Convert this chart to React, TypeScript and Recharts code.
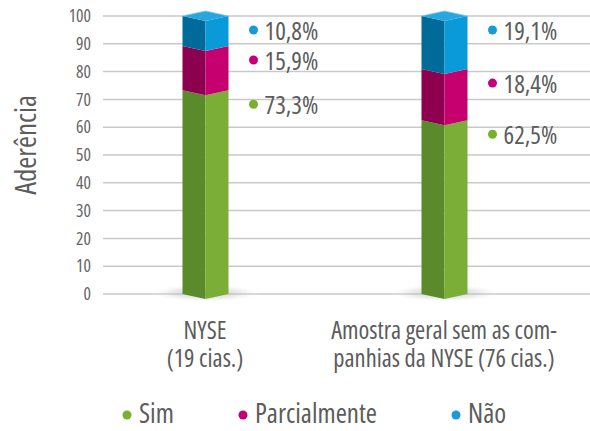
import React from 'react';
import { BarChart, Bar, XAxis, YAxis, CartesianGrid, LabelList } from 'recharts';

const categories = ['NYSE (19 cias.)', 'Amostra geral sem as companhias da NYSE (76 cias.)'];
const categoryLines = [
  ['NYSE', '(19 cias.)'],
  ['Amostra geral sem as com-', 'panhias da NYSE (76 cias.)'],
];
const simValues = [73.3, 62.5];
const parcialValues = [15.9, 18.4];
const naoValues = [10.8, 19.1];
const seriesNames = ['Sim', 'Parcialmente', 'Não'];
const yTicks = [0, 10, 20, 30, 40, 50, 60, 70, 80, 90, 100];

const FONT = "'Open Sans', 'DejaVu Sans Condensed', sans-serif";
const STRETCH = '75%';
const TEXT = '#5c5c5c';

const colors = {
  sim: { light: '#7aae36', dark: '#5a8a2a', dot: '#7ab02e' },
  parcial: { light: '#c6006f', dark: '#8c004f', dot: '#c4007a' },
  nao: { light: '#0a9ad9', dark: '#006a99', dot: '#1a9ad6', cap: '#27a6e0' },
};
const seriesColors = [colors.sim.dot, colors.parcial.dot, colors.nao.dot];
const legendX = [127, 243, 456];

const data = categories.map((name, i) => ({
  name,
  sim: simValues[i],
  parcial: parcialValues[i],
  nao: naoValues[i],
}));

const D = 5;

function Prism(props: any) {
  const { x, y, width, height, light, dark, cap, shadow, idx } = props;
  if (width == null || height == null) return null;
  const cx = x + width / 2;
  const yb = y + height;
  const gid = `shadow-${idx}`;
  return (
    <g>
      {shadow && (
        <g>
          <defs>
            <radialGradient id={gid} cx="50%" cy="50%" r="50%">
              <stop offset="0%" stopColor="#9a9a9a" stopOpacity={0.55} />
              <stop offset="60%" stopColor="#c8c8c8" stopOpacity={0.35} />
              <stop offset="100%" stopColor="#ffffff" stopOpacity={0} />
            </radialGradient>
          </defs>
          <ellipse cx={cx} cy={yb - 1} rx={width * 1.25} ry={9} fill={`url(#${gid})`} />
        </g>
      )}
      <polygon points={`${x},${y} ${cx},${y + D} ${cx},${yb + D} ${x},${yb}`} fill={dark} />
      <polygon points={`${cx},${y + D} ${x + width},${y} ${x + width},${yb} ${cx},${yb + D}`} fill={light} />
      {cap && (
        <g>
          <polygon points={`${x},${y} ${cx},${y - D} ${x + width},${y} ${cx},${y + D}`} fill={cap} />
          <polyline points={`${x},${y} ${cx},${y - D} ${x + width},${y}`} fill="none" stroke="#7fcdf0" strokeWidth={0.8} />
        </g>
      )}
    </g>
  );
}

function makeLabel(dot: string) {
  return (props: any) => {
    const { x, y, width, value } = props;
    const lx = x + width + 25;
    const ly = y + 14;
    const txt = Number(value).toFixed(1).replace('.', ',') + '%';
    return (
      <g>
        <circle cx={lx} cy={ly} r={4.5} fill={dot} />
        <text x={lx + 11} y={ly} dominantBaseline="central" fontSize={25} fill={TEXT} fontFamily={FONT} style={{ fontStretch: STRETCH }}>
          {txt}
        </text>
      </g>
    );
  };
}

function CatTick(props: any) {
  const { x, y, payload, index } = props;
  const lines = categoryLines[index] || [String(payload.value)];
  return (
    <text x={x} y={y} textAnchor="middle" fontSize={24.5} fill={TEXT} fontFamily={FONT} style={{ fontStretch: STRETCH }}>
      <tspan x={x} dy={37}>{lines[0]}</tspan>
      <tspan x={x} dy={28}>{lines[1]}</tspan>
    </text>
  );
}

function YLabel() {
  const cx = 24;
  const cy = 145;
  return (
    <text x={cx} y={cy} transform={`rotate(-90, ${cx}, ${cy})`} textAnchor="middle" dominantBaseline="central" fontSize={29} fill={TEXT} fontFamily={FONT} style={{ fontStretch: STRETCH }}>
      Aderência
    </text>
  );
}

export default function App() {
  return (
    <div style={{ position: 'absolute', left: 0, top: 0, width: 590, height: 431, background: '#fff', overflow: 'hidden' }}>
      <BarChart width={590} height={431} data={data} margin={{ top: 16, right: 0, left: 0, bottom: 57 }}>
        <CartesianGrid vertical={false} stroke="#c9c9c9" strokeWidth={1.5} />
        <YAxis
          width={103}
          domain={[0, 100]}
          ticks={yTicks}
          axisLine={false}
          tickLine={false}
          tickMargin={6}
          interval={0}
          tick={{ fontSize: 17.5, fill: '#666', fontFamily: FONT, style: { fontStretch: STRETCH } }}
          label={<YLabel />}
        />
        <XAxis
          dataKey="name"
          height={80}
          axisLine={false}
          tickLine={false}
          interval={0}
          padding={{ left: -17.5, right: 26.5 }}
          tick={<CatTick />}
        />
        <Bar
          dataKey="sim"
          stackId="a"
          name={seriesNames[0]}
          barSize={46}
          isAnimationActive={false}
          shape={(p: any) => <Prism {...p} light={colors.sim.light} dark={colors.sim.dark} shadow idx={p.index} />}
        >
          <LabelList dataKey="sim" content={makeLabel(colors.sim.dot)} />
        </Bar>
        <Bar
          dataKey="parcial"
          stackId="a"
          name={seriesNames[1]}
          barSize={46}
          isAnimationActive={false}
          shape={(p: any) => <Prism {...p} light={colors.parcial.light} dark={colors.parcial.dark} />}
        >
          <LabelList dataKey="parcial" content={makeLabel(colors.parcial.dot)} />
        </Bar>
        <Bar
          dataKey="nao"
          stackId="a"
          name={seriesNames[2]}
          barSize={46}
          isAnimationActive={false}
          shape={(p: any) => <Prism {...p} light={colors.nao.light} dark={colors.nao.dark} cap={colors.nao.cap} />}
        >
          <LabelList dataKey="nao" content={makeLabel(colors.nao.dot)} />
        </Bar>
      </BarChart>
      <svg width={590} height={431} style={{ position: 'absolute', left: 0, top: 0, pointerEvents: 'none' }}>
        {seriesNames.map((n, i) => (
          <g key={n}>
            <circle cx={legendX[i]} cy={415} r={4.5} fill={seriesColors[i]} />
            <text x={legendX[i] + 12} y={423} fontSize={27} fill={TEXT} fontFamily={FONT} style={{ fontStretch: STRETCH }}>
              {n}
            </text>
          </g>
        ))}
      </svg>
    </div>
  );
}
